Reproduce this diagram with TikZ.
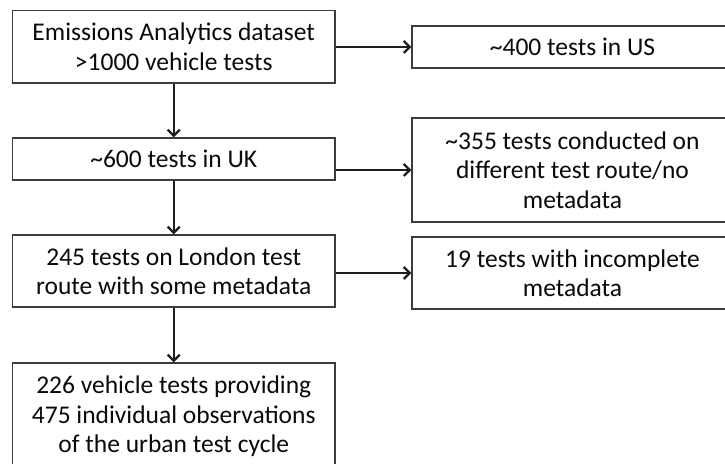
\documentclass[tikz,border=0pt]{standalone}
\usepackage{fontspec}
\setmainfont{Carlito}
\usetikzlibrary{arrows.meta}
\definecolor{boxline}{HTML}{3C3C3C}
\definecolor{txt}{HTML}{0A0A0A}
\definecolor{arr}{HTML}{1E1E1E}
\tikzset{
  box/.style={draw=boxline, line width=1.4pt, align=center, inner sep=0pt,
    text=txt, font=\fontsize{25.5}{29.5}\selectfont, anchor=center},
  leftbox/.style={box, minimum width=322.5pt},
  rightbox/.style={box, minimum width=321pt},
  conn/.style={draw=arr, line width=2.4pt, -{Straight Barb[length=6pt,width=12pt,line width=2.2pt]}}
}
\begin{document}
\begin{tikzpicture}[x=1pt,y=1pt]
\useasboundingbox (0,0) rectangle (725,463);
\clip (0,0) rectangle (725,463);
\fill[white] (0,0) rectangle (725,463);
\node[leftbox, minimum height=72.5pt] (a) at (173.75,416.25) {Emissions Analytics dataset\\>1000 vehicle tests};
\node[leftbox, minimum height=42pt] (b) at (173.75,304) {\char`~600 tests in UK};
\node[leftbox, minimum height=72pt] (c) at (173.75,192) {245 tests on London test\\route with some metadata};
\node[leftbox, minimum height=107pt] (d) at (173.75,46.5) {226 vehicle tests providing\\475 individual observations\\of the urban test cycle};
\node[rightbox, minimum height=42pt] (us) at (572.5,416) {\char`~400 tests in US};
\node[rightbox, minimum height=104pt] (e) at (572.5,293) {\char`~355 tests conducted on\\different test route/no\\metadata};
\node[rightbox, minimum height=72pt] (f) at (572.5,190) {19 tests with incomplete\\metadata};
\draw[conn] (a.south) -- (b.north);
\draw[conn] (b.south) -- (c.north);
\draw[conn] (c.south) -- (d.north);
\draw[conn] (a.east |- us.west) -- (us.west);
\draw[conn] (b.east |- e.west) -- (e.west);
\draw[conn] (c.east |- f.west) -- (f.west);
\end{tikzpicture}
\end{document}
